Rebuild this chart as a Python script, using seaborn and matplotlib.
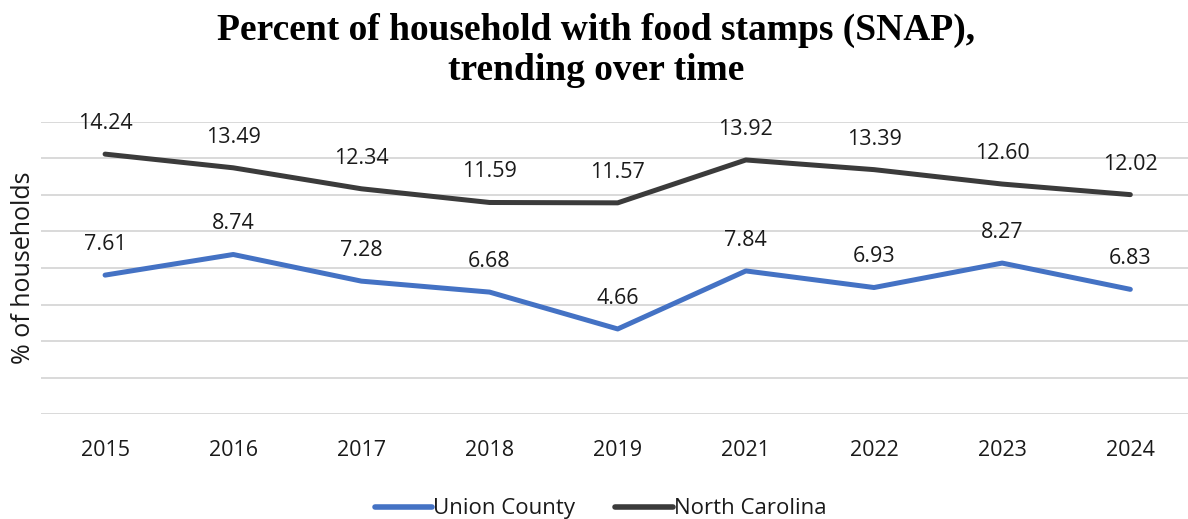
import matplotlib
matplotlib.use("Agg")
import matplotlib.pyplot as plt
import seaborn as sns
import pandas as pd

years = ["2015", "2016", "2017", "2018", "2019", "2021", "2022", "2023", "2024"]
union_county = [7.61, 8.74, 7.28, 6.68, 4.66, 7.84, 6.93, 8.27, 6.83]
north_carolina = [14.24, 13.49, 12.34, 11.59, 11.57, 13.92, 13.39, 12.60, 12.02]
series_names = ["Union County", "North Carolina"]
colors = ["#4472C4", "#3B3B3B"]

sns.set_theme(style="white")
plt.rcParams["font.family"] = ["Open Sans", "DejaVu Sans"]

df = pd.DataFrame({
    "Year": years * 2,
    "Value": union_county + north_carolina,
    "Series": [series_names[0]] * len(years) + [series_names[1]] * len(years),
})

fig = plt.figure(figsize=(11.88, 5.19), dpi=100)
ax = fig.add_axes([41 / 1188, 105 / 519, 1 - 41 / 1188, 292 / 519])

sns.lineplot(data=df, x="Year", y="Value", hue="Series", palette=colors,
             sort=False, linewidth=3.6, ax=ax, legend=True)

ax.set_ylim(0, 16)
ax.set_xlim(-0.5, 8.45)
ax.set_yticks(range(0, 17, 2))
ax.yaxis.grid(True, color="#D9D9D9", linewidth=1.4)
ax.set_yticklabels([])
ax.tick_params(axis="y", length=0)
ax.tick_params(axis="x", length=0, labelsize=15.5, pad=19, colors="#1a1a1a")
for s in ax.spines.values():
    s.set_visible(False)

ax.set_xlabel("")
ax.set_ylabel("% of households", fontsize=18, color="#1a1a1a")
ax.yaxis.set_label_coords(-0.0045, 0.5)

for vals in (union_county, north_carolina):
    for i, v in enumerate(vals):
        ax.annotate(f"{v:.2f}", (i, v), xytext=(0, 22), textcoords="offset points",
                    ha="center", va="center", fontsize=15.5, color="#1a1a1a")

handles, labels = ax.get_legend_handles_labels()
for h in handles:
    h.set_linewidth(4)
ax.legend(handles, labels, loc="center", bbox_to_anchor=(0.488, -0.325),
          ncol=2, frameon=False, fontsize=16, handlelength=2.6, columnspacing=1.8,
          handletextpad=0.05, labelcolor="#1a1a1a")

fig.suptitle("Percent of household with food stamps (SNAP),\ntrending over time",
             fontfamily="Liberation Serif", fontweight="bold", fontsize=27,
             color="black", y=0.975, x=0.502, linespacing=1.2)

fig.savefig("out.png", dpi=100)
